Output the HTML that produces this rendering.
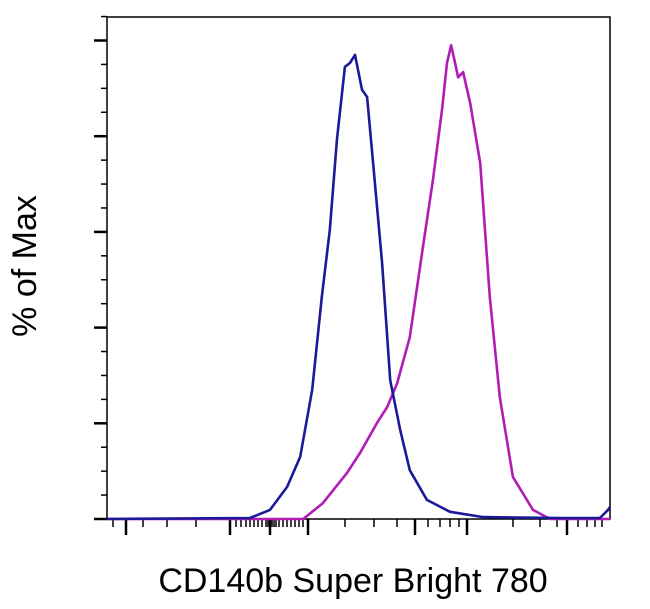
<!DOCTYPE html>
<html><head><meta charset="utf-8"><style>
body{margin:0;background:#fff;}
svg{display:block;font-family:"Liberation Sans",Arial,sans-serif;}
</style></head><body>
<svg id="chart" width="650" height="609" viewBox="0 0 650 609" xmlns="http://www.w3.org/2000/svg">
<rect x="107" y="17" width="503" height="502" fill="#fff" stroke="#000" stroke-width="1.5"/>
<g id="yticks"></g>
<g id="xticks"></g>
<g id="series"></g>
<text x="36" y="266" font-size="34" text-anchor="middle" transform="rotate(-90 36 266)">% of Max</text>
<text x="353" y="592" font-size="34" text-anchor="middle">CD140b Super Bright 780</text>
</svg>
<script>
const blueX=[0,284,324,358,384,408,427,443,457,473,483,493,507,517,529,547,563,583,602,636,682,748,901,980,996,1000];
const blueY=[0,0.2,1.9,6.7,13,27,46.4,60.4,79.2,94.5,95.3,97,89.7,88.2,74.4,53.5,29,18.6,10.2,4,1.5,0.4,0.2,0.2,1.9,2.5];
const magX=[0,390,429,477,503,537,557,577,602,628,648,666,676,684,692,698,708,722,742,761,781,807,847,881,1000];
const magY=[0,0,3.3,9.6,13.8,20.1,23.4,28.4,38,56.8,70.8,85.5,95.3,99,95.3,92.3,93.4,86.9,74.4,46.4,25.5,8.8,1.9,0,0];
const yTickValues=[0,20,40,60,80,100];
const xTickPos=[113,126,143,167,196,230,236,241,246,250,254,258,262,266,268,270,272,274,276,279,283,287,291,295,299,303,308,345,374,397,415,428,440,450,459,467,513,540,557,567,578,587,595,602];
const xTickMajor=[126,230,270,308,415,467,567];
const NS="http://www.w3.org/2000/svg";
const x0=107,x1=610,yb=519,ppp=4.785;
const sx=v=>x0+v*(x1-x0)/1000;
const sy=v=>yb-v*ppp;
const yt=document.getElementById('yticks');
for(let v=0;v<=105;v+=5){
  const l=document.createElementNS(NS,'line');
  const maj=yTickValues.includes(v);
  l.setAttribute('x1',maj?94:101);l.setAttribute('x2',107);
  l.setAttribute('y1',sy(v));l.setAttribute('y2',sy(v));
  l.setAttribute('stroke','#000');l.setAttribute('stroke-width',maj?2.5:1.5);
  
  
  yt.appendChild(l);
}
const xt=document.getElementById('xticks');
xTickPos.forEach(p=>{
  const maj=xTickMajor.includes(p);
  const l=document.createElementNS(NS,'line');
  l.setAttribute('x1',p);l.setAttribute('x2',p);
  l.setAttribute('y1',519);l.setAttribute('y2',maj?535:527);
  l.setAttribute('stroke','#000');l.setAttribute('stroke-width',maj?2.5:1.5);
  
  
  xt.appendChild(l);
});
function draw(xs,ys,color,name){
  const p=document.createElementNS(NS,'polyline');
  p.setAttribute('points',xs.map((v,i)=>sx(v).toFixed(1)+','+sy(ys[i]).toFixed(1)).join(' '));
  p.setAttribute('fill','none');p.setAttribute('stroke',color);p.setAttribute('stroke-width',2.6);
  p.setAttribute('stroke-linejoin','round');
  
  
  document.getElementById('series').appendChild(p);
}
draw(magX,magY,'#b01cb4','stained-histogram');
draw(blueX,blueY,'#1a1a98','control-histogram');
</script>
</body></html>
